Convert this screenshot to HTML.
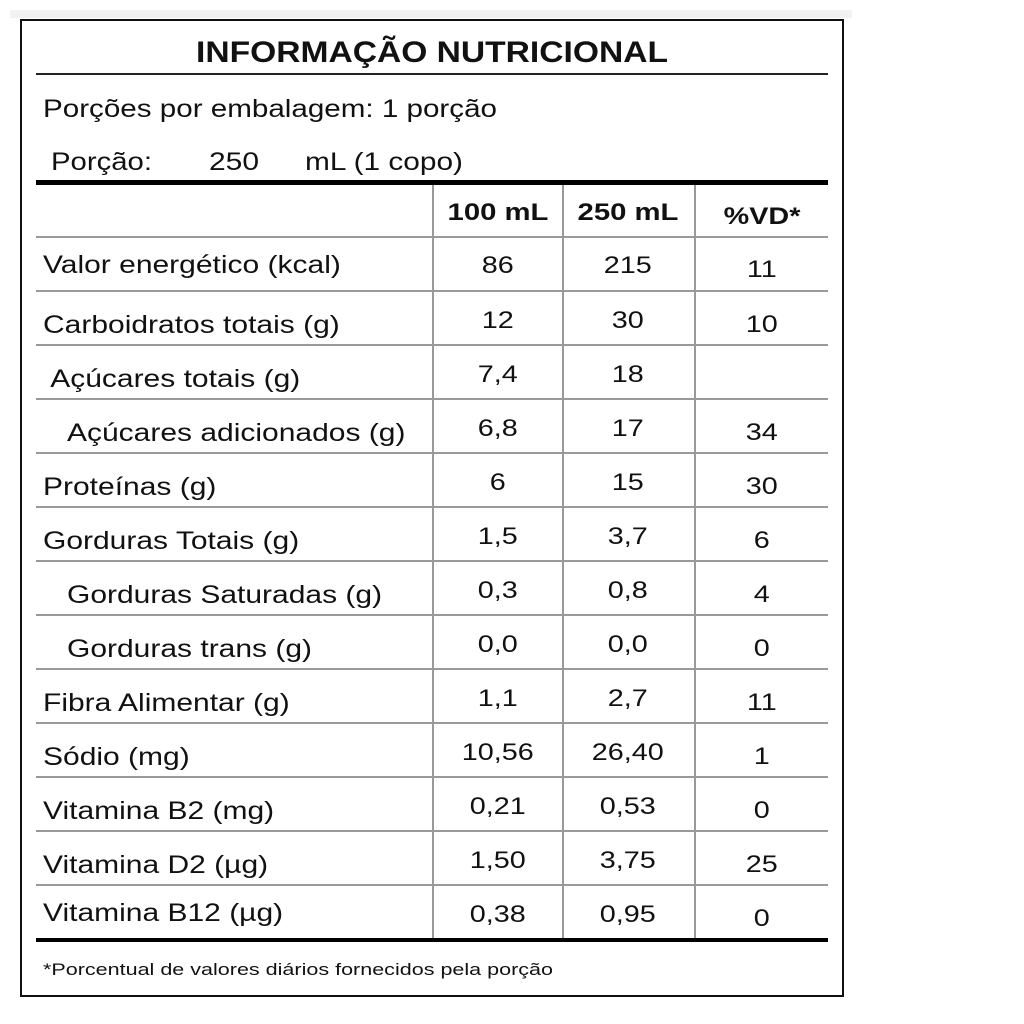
<!DOCTYPE html>
<html><head><meta charset="utf-8"><style>
html,body{margin:0;padding:0;background:#fff;width:1024px;height:1024px;overflow:hidden}
svg{display:block}
text{font-family:"Liberation Sans",Arial,sans-serif;fill:#111}
</style></head><body>
<svg width="1024" height="1024" viewBox="0 0 1024 1024" xmlns="http://www.w3.org/2000/svg">
<rect x="10" y="10" width="842" height="8" fill="#f2f2f2"/>
<rect x="21" y="20" width="822" height="976" fill="#fff" stroke="#111" stroke-width="2"/>
<text x="432" y="62" font-size="30" font-weight="bold" text-anchor="middle" textLength="472" lengthAdjust="spacingAndGlyphs">INFORMAÇÃO NUTRICIONAL</text>
<rect x="36" y="73" width="792" height="2" fill="#222"/>
<text x="43" y="117" font-size="25" textLength="454" lengthAdjust="spacingAndGlyphs">Porções por embalagem: 1 porção</text>
<text x="51" y="170" font-size="25" textLength="101" lengthAdjust="spacingAndGlyphs">Porção:</text>
<text x="209" y="170" font-size="25" textLength="50" lengthAdjust="spacingAndGlyphs">250</text>
<text x="305" y="170" font-size="25" textLength="158" lengthAdjust="spacingAndGlyphs">mL (1 copo)</text>
<rect x="36" y="180" width="792" height="5" fill="#000"/>
<g fill="#999">
<rect x="432" y="185" width="2" height="754"/>
<rect x="562" y="185" width="2" height="754"/>
<rect x="694" y="185" width="2" height="754"/>
<rect x="36" y="236" width="792" height="2"/>
<rect x="36" y="290" width="792" height="2"/>
<rect x="36" y="344" width="792" height="2"/>
<rect x="36" y="398" width="792" height="2"/>
<rect x="36" y="452" width="792" height="2"/>
<rect x="36" y="506" width="792" height="2"/>
<rect x="36" y="560" width="792" height="2"/>
<rect x="36" y="614" width="792" height="2"/>
<rect x="36" y="668" width="792" height="2"/>
<rect x="36" y="722" width="792" height="2"/>
<rect x="36" y="776" width="792" height="2"/>
<rect x="36" y="830" width="792" height="2"/>
<rect x="36" y="884" width="792" height="2"/>
</g>
<rect x="36" y="938" width="792" height="4" fill="#000"/>
<g font-size="24" font-weight="bold" text-anchor="middle">
<text transform="translate(498,220) scale(1.22,1)">100 mL</text>
<text transform="translate(628,220) scale(1.22,1)">250 mL</text>
<text transform="translate(762,224) scale(1.2,1)">%VD*</text>
</g>
<g font-size="25" transform="translate(43,0) scale(1.2,1)">
<text x="0" y="273">Valor energético (kcal)</text>
<text x="0" y="333">Carboidratos totais (g)</text>
<text x="6" y="387">Açúcares totais (g)</text>
<text x="20" y="441">Açúcares adicionados (g)</text>
<text x="0" y="495">Proteínas (g)</text>
<text x="0" y="549">Gorduras Totais (g)</text>
<text x="20" y="603">Gorduras Saturadas (g)</text>
<text x="20" y="657">Gorduras trans (g)</text>
<text x="0" y="711">Fibra Alimentar (g)</text>
<text x="0" y="765">Sódio (mg)</text>
<text x="0" y="819">Vitamina B2 (mg)</text>
<text x="0" y="873">Vitamina D2 (µg)</text>
<text x="0" y="921">Vitamina B12 (µg)</text>
</g>
<g font-size="24" text-anchor="middle">
<g transform="translate(415,0) scale(1.2,1)">
<text x="69" y="273">86</text><text x="69" y="328">12</text><text x="69" y="382">7,4</text><text x="69" y="436">6,8</text>
<text x="69" y="490">6</text><text x="69" y="544">1,5</text><text x="69" y="598">0,3</text><text x="69" y="652">0,0</text>
<text x="69" y="706">1,1</text><text x="69" y="760">10,56</text><text x="69" y="814">0,21</text><text x="69" y="868">1,50</text><text x="69" y="922">0,38</text>
</g>
<g transform="translate(545,0) scale(1.2,1)">
<text x="69" y="273">215</text><text x="69" y="328">30</text><text x="69" y="382">18</text><text x="69" y="436">17</text>
<text x="69" y="490">15</text><text x="69" y="544">3,7</text><text x="69" y="598">0,8</text><text x="69" y="652">0,0</text>
<text x="69" y="706">2,7</text><text x="69" y="760">26,40</text><text x="69" y="814">0,53</text><text x="69" y="868">3,75</text><text x="69" y="922">0,95</text>
</g>
<g transform="translate(679,0) scale(1.2,1)">
<text x="69" y="277">11</text><text x="69" y="332">10</text><text x="69" y="440">34</text>
<text x="69" y="494">30</text><text x="69" y="548">6</text><text x="69" y="602">4</text><text x="69" y="656">0</text>
<text x="69" y="710">11</text><text x="69" y="764">1</text><text x="69" y="818">0</text><text x="69" y="872">25</text><text x="69" y="926">0</text>
</g>
</g>
<text x="43" y="975" font-size="17" textLength="510" lengthAdjust="spacingAndGlyphs">*Porcentual de valores diários fornecidos pela porção</text>
</svg>
</body></html>
